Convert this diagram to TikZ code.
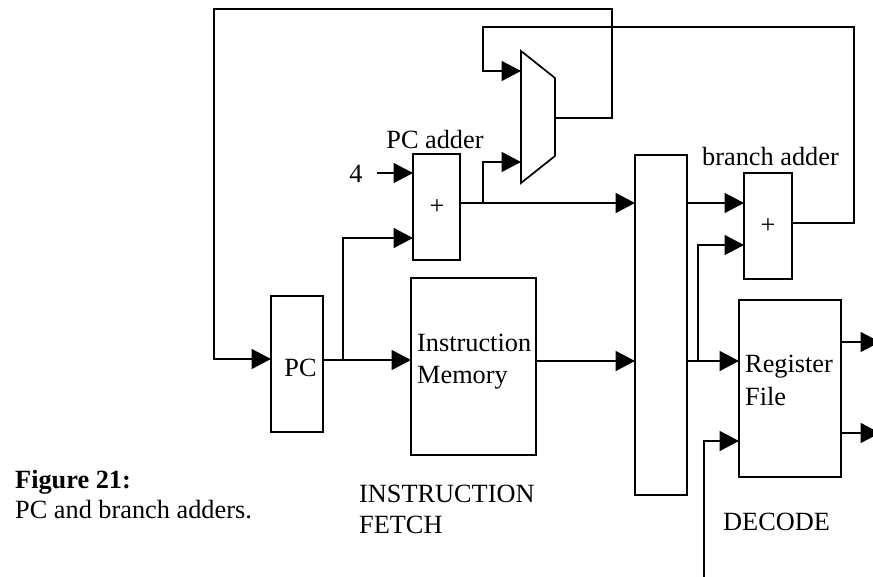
\documentclass[tikz,border=0pt]{standalone}
\usepackage{fontspec}
\setmainfont{Liberation Serif}
\usetikzlibrary{arrows.meta}
\begin{document}
\begin{tikzpicture}[x=1pt,y=-1pt,
  wire/.style={line width=1.7pt},
  arr/.style={wire,-{Triangle[length=19.5pt,width=20pt]}},
  blk/.style={draw,line width=1.7pt,inner sep=0pt,outer sep=0pt,anchor=north west},
  txt/.style={inner sep=0pt,font=\fontsize{26.3}{31}\selectfont},
  lbl/.style={txt,anchor=base west},
  lblc/.style={txt,anchor=base}]
\useasboundingbox (0,0) rectangle (873,577);
\clip (0,0) rectangle (873,577);

% storage and arithmetic blocks
\node[blk,minimum width=52pt,minimum height=136pt] (pc) at (271,296) {};
\node[blk,minimum width=47pt,minimum height=106pt] (pcadd) at (413,154) {};
\node[blk,minimum width=125pt,minimum height=177pt] (imem) at (411,278) {};
\node[blk,minimum width=52pt,minimum height=340pt] (ifid) at (635,155) {};
\node[blk,minimum width=48pt,minimum height=106pt] (bradd) at (744,173) {};
\node[blk,minimum width=102pt,minimum height=177pt] (rf) at (739,300) {};

% multiplexer
\draw[wire] (521,51) -- (555,78) -- (555,156) -- (521,183) -- cycle;
\coordinate (muxa) at (521,71);
\coordinate (muxb) at (521,162);
\coordinate (muxo) at (555,118);

% labels
\node[lblc] (pcaddlbl) at (435,149) {PC adder};
\node[lblc] (four) at (356,183) {4};
\node[txt] (pcplus) at (437,207) {+};
\node[lblc] (braddlbl) at (770.5,166) {branch adder};
\node[txt] (brplus) at (768,226) {+};
\node[lblc] (pclbl) at (300.5,376) {PC};
\node[lbl] (im1) at (417,352) {Instruction};
\node[lbl] (im2) at (417,383) {Memory};
\node[lbl] (rf1) at (745,373) {Register};
\node[lbl] (rf2) at (745,405) {File};
\node[lbl] (if1) at (359,502) {INSTRUCTION};
\node[lbl] (if2) at (359,533) {FETCH};
\node[lbl] (dec) at (723,530) {DECODE};
\node[lbl,font=\fontsize{26.3}{31}\selectfont\bfseries] (cap1) at (15,488) {Figure 21:};
\node[lbl] (cap2) at (15,518) {PC and branch adders.};

% wiring
\coordinate (fourin) at (377,173);
\coordinate (j1) at (343,360);
\coordinate (j2) at (483,203);
\coordinate (j3) at (698,361);

\draw[arr] (muxo) -- (612,118) -- (612,9) -- (214,9) |- (pc.west |- 0,359);
\draw[arr] (pc.east |- 0,360) -- (imem.west |- 0,360);
\draw[arr] (j1) |- (pcadd.west |- 0,238);
\draw[arr] (fourin) -- (pcadd.west |- fourin);
\draw[arr] (pcadd.east |- 0,203) -- (ifid.west |- 0,203);
\draw[arr] (j2) |- (muxb);
\draw[arr] (imem.east |- 0,361) -- (ifid.west |- 0,361);
\draw[arr] (ifid.east |- 0,203) -- (bradd.west |- 0,203);
\draw[arr] (ifid.east |- 0,361) -- (rf.west |- 0,361);
\draw[arr] (j3) |- (bradd.west |- 0,245);
\draw[arr] (bradd.east |- 0,223) -- (854,223) -- (854,27) -- (483,27) |- (muxa);
\draw[arr] (704,582) |- (rf.west |- 0,441);
\draw[arr] (rf.east |- 0,342) -- (880,342);
\draw[arr] (rf.east |- 0,433) -- (880,433);
\end{tikzpicture}
\end{document}
